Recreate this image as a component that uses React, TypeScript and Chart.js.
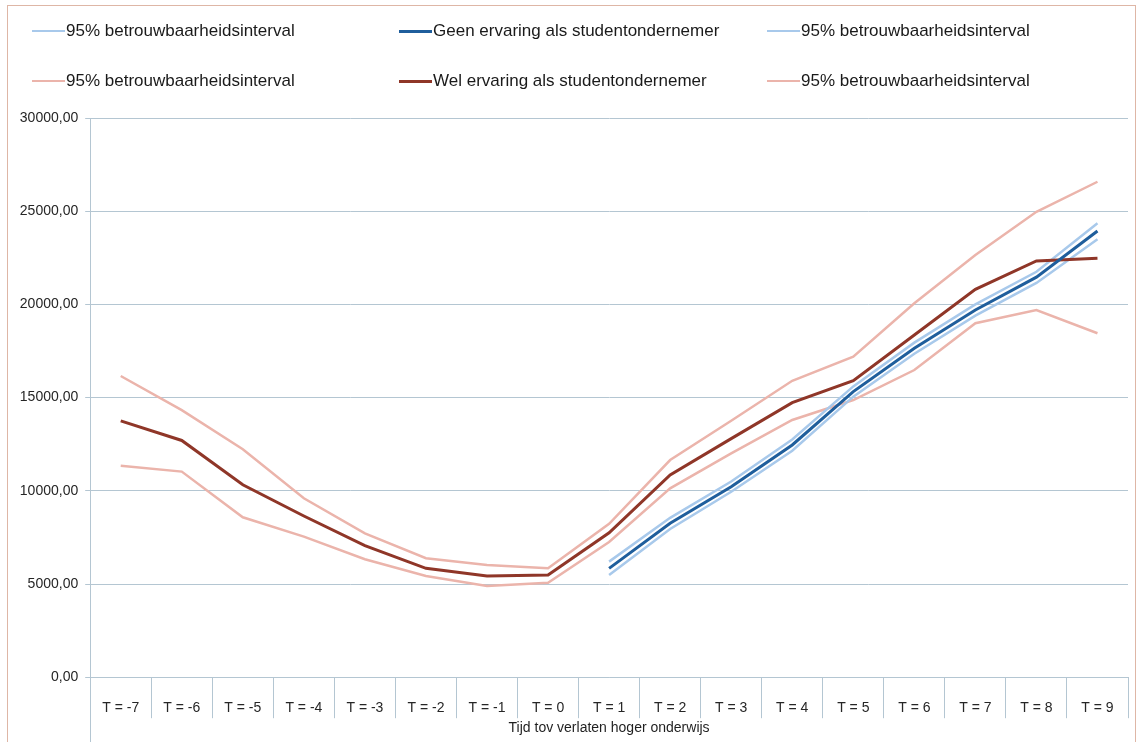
import React, { useEffect, useRef } from 'react';
import { Chart, registerables } from 'chart.js';

Chart.register(...registerables);

const categories = ['T = -7', 'T = -6', 'T = -5', 'T = -4', 'T = -3', 'T = -2', 'T = -1', 'T = 0', 'T = 1', 'T = 2', 'T = 3', 'T = 4', 'T = 5', 'T = 6', 'T = 7', 'T = 8', 'T = 9'];

const welValues = [13750, 12700, 10320, 8650, 7060, 5840, 5430, 5480, 7750, 10850, 12800, 14730, 15910, 18360, 20810, 22330, 22470];
const welUpper = [16160, 14330, 12230, 9600, 7720, 6380, 6020, 5840, 8230, 11650, 13760, 15900, 17200, 20060, 22650, 24970, 26580];
const welLower = [11350, 11030, 8580, 7540, 6330, 5430, 4890, 5070, 7250, 10130, 12010, 13800, 14870, 16480, 18990, 19700, 18450];

const geenValues = [null, null, null, null, null, null, null, null, 5840, 8260, 10220, 12460, 15320, 17650, 19700, 21460, 23940];
const geenUpper = [null, null, null, null, null, null, null, null, 6200, 8550, 10500, 12750, 15600, 17950, 20000, 21750, 24350];
const geenLower = [null, null, null, null, null, null, null, null, 5480, 7950, 9950, 12150, 15050, 17350, 19400, 21150, 23500];

const yTicks = [0, 5000, 10000, 15000, 20000, 25000, 30000];

const ciLabel = '95% betrouwbaarheidsinterval';
const geenLabel = 'Geen ervaring als studentondernemer';
const welLabel = 'Wel ervaring als studentondernemer';
const xTitle = 'Tijd tov verlaten hoger onderwijs';

const BLUE = '#1f5e9c';
const BLUE_CI = '#a8c9eb';
const RED = '#8f3628';
const RED_CI = '#ebb4ab';
const GRID = '#b4c6d2';
const FONT = "'Liberation Sans', Arial, sans-serif";

const legendRows = [
  [
    { label: ciLabel, color: BLUE_CI, width: 2 },
    { label: geenLabel, color: BLUE, width: 3 },
    { label: ciLabel, color: BLUE_CI, width: 2 },
  ],
  [
    { label: ciLabel, color: RED_CI, width: 2 },
    { label: welLabel, color: RED, width: 3 },
    { label: ciLabel, color: RED_CI, width: 2 },
  ],
];

const legendColX = [32, 399, 767];
const legendRowY = [31, 81];

export default function App() {
  const ref = useRef<HTMLCanvasElement>(null);

  useEffect(() => {
    const extendAxis = {
      id: 'extendAxis',
      afterDraw(chart: any) {
        const { ctx, chartArea } = chart;
        ctx.save();
        ctx.strokeStyle = GRID;
        ctx.lineWidth = 1;
        ctx.beginPath();
        const x = Math.round(chartArea.left) + 0.5;
        ctx.moveTo(x, chartArea.bottom);
        ctx.lineTo(x, chart.height);
        ctx.stroke();
        ctx.restore();
      },
    };

    const chart = new Chart(ref.current as HTMLCanvasElement, {
      type: 'line',
      data: {
        labels: categories,
        datasets: [
          { label: geenLabel, data: geenValues, borderColor: BLUE, borderWidth: 3, order: 1 },
          { label: welLabel, data: welValues, borderColor: RED, borderWidth: 3, order: 2 },
          { label: ciLabel, data: geenUpper, borderColor: BLUE_CI, borderWidth: 2.5, order: 3 },
          { label: ciLabel, data: geenLower, borderColor: BLUE_CI, borderWidth: 2.5, order: 4 },
          { label: ciLabel, data: welUpper, borderColor: RED_CI, borderWidth: 2.5, order: 5 },
          { label: ciLabel, data: welLower, borderColor: RED_CI, borderWidth: 2.5, order: 6 },
        ].map((d) => ({ ...d, fill: false, tension: 0, pointRadius: 0, pointHoverRadius: 0, spanGaps: false })),
      },
      options: {
        responsive: false,
        animation: false,
        devicePixelRatio: 1,
        layout: { padding: { top: 118, right: 9, left: 0, bottom: 0 } },
        plugins: {
          legend: { display: false },
          tooltip: { enabled: false },
        },
        scales: {
          x: {
            type: 'category',
            offset: true,
            grid: {
              offset: true,
              drawOnChartArea: false,
              drawTicks: true,
              tickLength: 41,
              color: GRID,
              lineWidth: 1,
            },
            border: { display: true, color: GRID, width: 1 },
            ticks: {
              padding: -18,
              autoSkip: false,
              maxRotation: 0,
              color: '#262626',
              font: { family: FONT, size: 14 },
            },
            title: {
              display: true,
              text: xTitle,
              color: '#1f1f1f',
              font: { family: FONT, size: 14 },
              padding: { top: 0, bottom: 5 },
            },
            afterFit: (s: any) => {
              s.height = 742 - 677.2;
            },
          },
          y: {
            min: 0,
            max: 30000,
            afterBuildTicks: (s: any) => {
              s.ticks = yTicks.map((v) => ({ value: v }));
            },
            ticks: {
              padding: 7,
              color: '#262626',
              font: { family: FONT, size: 14 },
              callback: (v: any) => Number(v).toFixed(2).replace('.', ','),
            },
            grid: { color: GRID, tickLength: 5, drawTicks: true, lineWidth: 1 },
            border: { display: true, color: GRID, width: 1 },
            afterFit: (s: any) => {
              s.width = 90.2;
            },
          },
        },
      },
      plugins: [extendAxis],
    });
    return () => chart.destroy();
  }, []);

  return (
    <div style={{ position: 'fixed', left: 0, top: 0, width: 1137, height: 742, background: '#fff', overflow: 'hidden' }}>
      <div
        style={{
          position: 'absolute',
          left: 7,
          top: 5,
          width: 1129,
          height: 780,
          border: '1px solid #deb6a6',
          boxSizing: 'border-box',
        }}
      />
      <canvas ref={ref} width={1137} height={742} style={{ position: 'absolute', left: 0, top: 0, width: 1137, height: 742 }} />
      {legendRows.map((row, ri) =>
        row.map((item, ci) => (
          <div
            key={`${ri}-${ci}`}
            style={{
              position: 'absolute',
              left: legendColX[ci],
              top: legendRowY[ri] - 12,
              height: 24,
              display: 'flex',
              alignItems: 'center',
              whiteSpace: 'nowrap',
              fontFamily: FONT,
              fontSize: 17,
              color: '#1a1a1a',
            }}
          >
            <span style={{ display: 'inline-block', width: 33, height: item.width, background: item.color, marginRight: 1 }} />
            <span>{item.label}</span>
          </div>
        ))
      )}
    </div>
  );
}
